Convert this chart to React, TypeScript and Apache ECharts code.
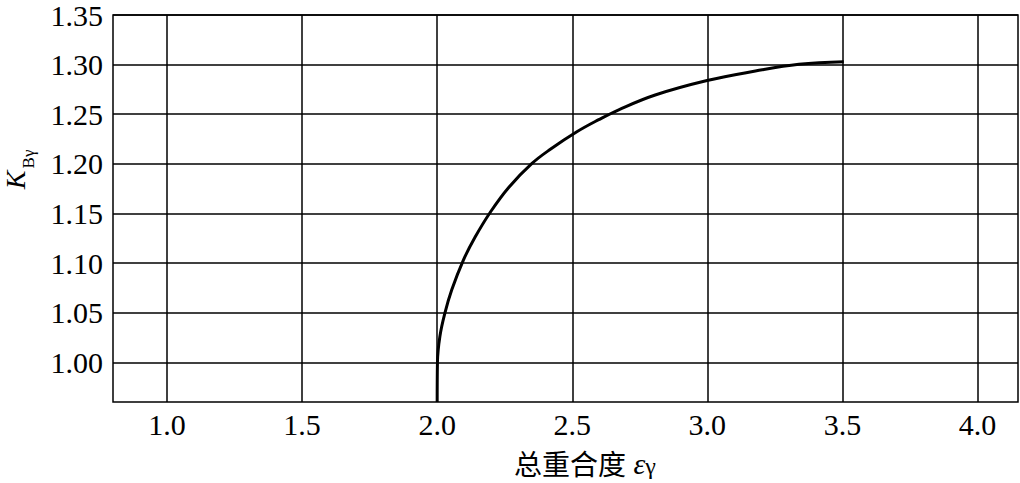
import React, { useEffect, useRef } from "react";
import * as echarts from "echarts";

// Tick values
const xTicks = [1.0, 1.5, 2.0, 2.5, 3.0, 3.5, 4.0];
const yTicks = [1.0, 1.05, 1.1, 1.15, 1.2, 1.25, 1.3, 1.35];

// Curve K_Bγ vs total contact ratio εγ
const curveX = [2.0, 2.001, 2.01, 2.029, 2.054, 2.097, 2.14, 2.196, 2.264, 2.351, 2.419, 2.517, 2.598, 2.672, 2.807, 2.999, 3.178, 3.339, 3.505];
const curveY = [0.96, 1.0, 1.026, 1.05, 1.073, 1.103, 1.126, 1.151, 1.176, 1.2004, 1.2147, 1.2323, 1.2445, 1.2545, 1.2694, 1.284, 1.2935, 1.3003, 1.303];

// Axis titles
const xTitleCjk = "总重合度";
const xTitleSym = "ε";
const xTitleSub = "γ";
const yTitleSym = "K";
const yTitleSub = "Bγ";

export default function App() {
  const ref = useRef<HTMLDivElement>(null);
  useEffect(() => {
    if (!ref.current) return;
    const chart = echarts.init(ref.current, null, { renderer: "svg" });
    const serif = "Liberation Serif";
    const data = curveX.map((x, i) => [x, curveY[i]]);
    chart.setOption({
      animation: false,
      backgroundColor: "#ffffff",
      grid: {
        left: 113,
        right: 2,
        top: 14,
        bottom: 81,
        show: true,
        borderColor: "#000",
        borderWidth: 1.5,
        backgroundColor: "transparent",
      },
      xAxis: {
        type: "value",
        min: 0.8,
        max: 4.15,
        axisLine: { show: false },
        axisTick: { show: false, customValues: xTicks },
        axisLabel: {
          customValues: xTicks,
          formatter: (v: number) => v.toFixed(1),
          color: "#000",
          fontFamily: serif,
          fontSize: 30,
          margin: 7,
        },
        splitLine: { show: true, lineStyle: { color: "#000", width: 1.5 } },
      },
      yAxis: {
        type: "value",
        min: 0.96,
        max: 1.35,
        axisLine: { show: false },
        axisTick: { show: false, customValues: yTicks },
        axisLabel: {
          customValues: yTicks,
          formatter: (v: number) => v.toFixed(2),
          color: "#000",
          fontFamily: serif,
          fontSize: 30,
          margin: 10,
        },
        splitLine: { show: true, lineStyle: { color: "#000", width: 1.5 } },
      },
      series: [
        {
          type: "line",
          data,
          showSymbol: false,
          smooth: 0.4,
          lineStyle: { color: "#000", width: 3 },
          silent: true,
        },
      ],
      graphic: [
        {
          type: "text",
          x: 15,
          y: 180,
          rotation: Math.PI / 2,
          style: {
            text: yTitleSym,
            fontFamily: serif,
            fontStyle: "italic",
            fontSize: 28,
            fill: "#000",
            align: "center",
            verticalAlign: "middle",
            textAlign: "center",
            textVerticalAlign: "middle",
          },
        },
        {
          type: "text",
          x: 28,
          y: 159,
          rotation: Math.PI / 2,
          style: {
            text: yTitleSub,
            fontFamily: serif,
            fontSize: 17,
            fill: "#000",
            align: "center",
            verticalAlign: "middle",
            textAlign: "center",
            textVerticalAlign: "middle",
          },
        },
        {
          type: "text",
          x: 514,
          y: 463,
          style: {
            text: `{c|${xTitleCjk}}{e| ${xTitleSym}}{g|${xTitleSub}}`,
            align: "left",
            verticalAlign: "middle",
            textAlign: "left",
            textVerticalAlign: "middle",
            fill: "#000",
            rich: {
              c: { fontFamily: "Noto Sans CJK SC", fontSize: 28, lineHeight: 30, fill: "#000" },
              e: { fontFamily: serif, fontStyle: "italic", fontSize: 30, lineHeight: 30, fill: "#000" },
              g: { fontFamily: serif, fontSize: 24, lineHeight: 24, fill: "#000", padding: [6, 0, 0, 0] },
            },
          },
        },
      ],
    });
    return () => chart.dispose();
  }, []);
  return (
    <div
      ref={ref}
      style={{ position: "fixed", left: 0, top: 0, width: 1020, height: 483, background: "#fff" }}
    />
  );
}
